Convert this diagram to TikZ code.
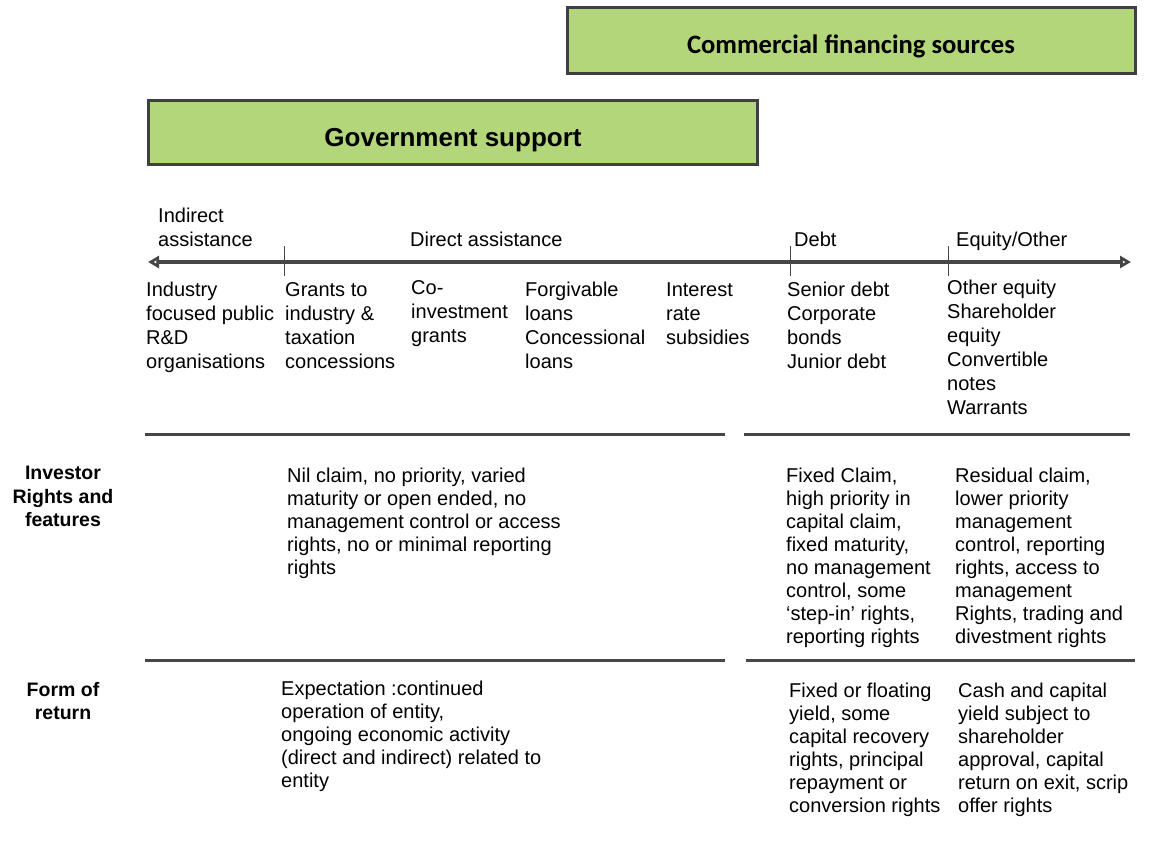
\documentclass[tikz,border=0pt]{standalone}
\usepackage{fontspec}
\setmainfont{Liberation Sans}
\newfontfamily\calibfont{Carlito}
\usetikzlibrary{arrows.meta}
\definecolor{boxgreen}{RGB}{179,214,122}
\definecolor{boxedge}{RGB}{64,64,64}
\definecolor{rulegray}{RGB}{70,70,70}
\newcommand\txtcol[1]{\begin{tabular}[t]{@{}l@{}}#1\end{tabular}}
\newcommand\ctrcol[1]{\begin{tabular}[t]{@{}c@{}}#1\end{tabular}}
\begin{document}
\begin{tikzpicture}[x=1pt,y=-1pt,
  greenbox/.style={draw=boxedge, line width=3pt, fill=boxgreen, inner sep=0pt},
  txt/.style={anchor=base west, inner sep=0pt, font=\fontsize{20}{24}\selectfont},
  txtb/.style={anchor=base west, inner sep=0pt, font=\fontsize{20}{23}\selectfont},
  rowlab/.style={anchor=base, inner sep=0pt, font=\fontsize{19.5}{23.5}\selectfont\bfseries},
  seprule/.style={draw=rulegray, line width=3pt},
  tickrule/.style={draw=rulegray, line width=1pt},
  axisline/.style={draw=rulegray, line width=3.2pt,
    {Triangle[open,length=11pt,width=12pt]}-{Triangle[open,length=11pt,width=12pt]}},
]
\useasboundingbox[fill=white] (0,0) rectangle (1155,861);

% heading boxes
\node[greenbox, minimum width=568pt, minimum height=66pt] (comm) at (851,41) {};
\node[anchor=base, inner sep=0pt, font=\calibfont\fontsize{26.6}{30}\selectfont\bfseries] (commt) at (851,53.5) {Commercial financing sources};
\node[greenbox, minimum width=609pt, minimum height=64pt] (gov) at (452.5,133) {};
\node[anchor=base, inner sep=0pt, font=\fontsize{26}{30}\selectfont\bfseries] (govt) at (453,146.5) {Government support};

% axis
\coordinate (axL) at (148,262);
\coordinate (axR) at (1131,262);
\draw[axisline] (axL) -- (axR);
\coordinate (t1a) at (284,246); \coordinate (t1b) at (284,276);
\coordinate (t2a) at (790,246); \coordinate (t2b) at (790,276);
\coordinate (t3a) at (948,246); \coordinate (t3b) at (948,276);
\draw[tickrule] (t1a) -- (t1b);
\draw[tickrule] (t2a) -- (t2b);
\draw[tickrule] (t3a) -- (t3b);

% axis labels
\node[txt] (indirect) at (158,222) {\txtcol{Indirect\\assistance}};
\node[txt] (direct) at (410,246) {Direct assistance};
\node[txt] (debt) at (794,246) {Debt};
\node[txt] (equity) at (956,246) {Equity/Other};

% instruments
\node[txt] (i1) at (146,296.5) {\txtcol{Industry\\focused public\\R\&D\\organisations}};
\node[txt] (i2) at (285,296.5) {\txtcol{Grants to\\industry \&\\taxation\\concessions}};
\node[txt] (i3) at (411,294.5) {\txtcol{Co-\\investment\\grants}};
\node[txt] (i4) at (525,296.5) {\txtcol{Forgivable\\loans\\Concessional\\loans}};
\node[txt] (i5) at (666,296.5) {\txtcol{Interest\\rate\\subsidies}};
\node[txt] (i6) at (787,296.5) {\txtcol{Senior debt\\Corporate\\bonds\\Junior debt}};
\node[txt] (i7) at (947,294.5) {\txtcol{Other equity\\Shareholder\\equity\\Convertible\\notes\\Warrants}};

% separators
\coordinate (s1a) at (145,434); \coordinate (s1b) at (725,434);
\coordinate (s2a) at (744,434); \coordinate (s2b) at (1130,434);
\coordinate (s3a) at (145,660); \coordinate (s3b) at (725,660);
\coordinate (s4a) at (746,660); \coordinate (s4b) at (1135,660);
\draw[seprule] (s1a) -- (s1b);
\draw[seprule] (s2a) -- (s2b);
\draw[seprule] (s3a) -- (s3b);
\draw[seprule] (s4a) -- (s4b);

% investor rights row
\node[rowlab] (invlab) at (63,479.5) {\ctrcol{Investor\\Rights and\\features}};
\node[txtb] (inv1) at (287,482.5) {\txtcol{Nil claim, no priority, varied\\maturity or open ended, no\\management control or access\\rights, no or minimal reporting\\rights}};
\node[txtb] (inv2) at (786,482) {\txtcol{Fixed Claim,\\high priority in\\capital claim,\\fixed maturity,\\no management\\control, some\\‘step-in’ rights,\\reporting rights}};
\node[txtb] (inv3) at (955,482) {\txtcol{Residual claim,\\lower priority\\management\\control, reporting\\rights, access to\\management\\Rights, trading and\\divestment rights}};

% form of return row
\node[rowlab] (retlab) at (63,696) {\ctrcol{Form of\\return}};
\node[txtb] (ret1) at (281,695) {\txtcol{Expectation :continued\\operation of entity,\\ongoing economic activity\\(direct and indirect) related to\\entity}};
\node[txtb] (ret2) at (789,697.5) {\txtcol{Fixed or floating\\yield, some\\capital recovery\\rights, principal\\repayment or\\conversion rights}};
\node[txtb] (ret3) at (958,697.5) {\txtcol{Cash and capital\\yield subject to\\shareholder\\approval, capital\\return on exit, scrip\\offer rights}};
\end{tikzpicture}
\end{document}
